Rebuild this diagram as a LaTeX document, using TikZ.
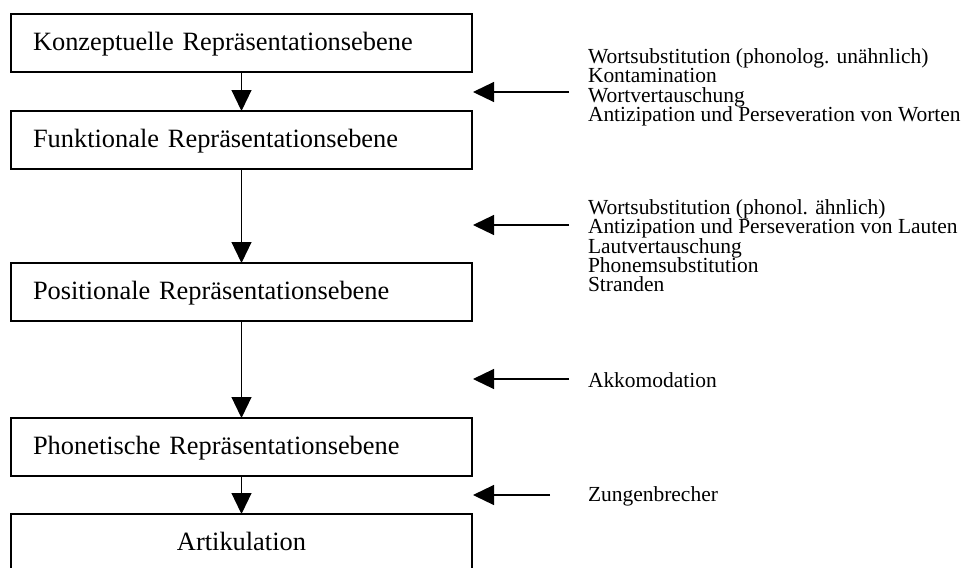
\documentclass[tikz,border=0pt]{standalone}
\usepackage{fontspec}
\setmainfont{Liberation Serif}
\usetikzlibrary{arrows.meta,positioning}

\newcommand\fehlerfont{\fontsize{16.1}{14.5}\selectfont\lineskiplimit=-100pt\relax}

\tikzset{
  ebene/.style={draw, line width=1pt, outer sep=0pt, inner xsep=16.5pt, inner ysep=0pt,
    text width=312.75pt, align=left, text height=27pt, text depth=16.5pt,
    anchor=north west, font=\fontsize{19.8}{24}\selectfont},
  pfeil/.style={line width=0.9pt, -{Triangle[length=15.75pt,width=15pt]}},
  fehler/.style={inner sep=0pt, outer sep=0pt, align=left, font=\fehlerfont}
}

\begin{document}
\begin{tikzpicture}[x=0.75pt, y=-0.75pt]
    \clip (0,0) rectangle (961,568);
    % Ebenen der Sprachproduktion
    \node[ebene] (kon) at (11,14)  {Konzeptuelle Repräsentationsebene};
    \node[ebene] (fun) at (11,111) {Funktionale Repräsentationsebene};
    \node[ebene] (pos) at (11,263) {Positionale Repräsentationsebene};
    \node[ebene] (pho) at (11,418) {Phonetische Repräsentationsebene};
    \node[ebene, align=center] (art) at (11,514) {Artikulation};
    \draw[pfeil] (kon.south) -- (fun.north);
    \draw[pfeil] (fun.south) -- (pos.north);
    \draw[pfeil] (pos.south) -- (pho.north);
    \draw[pfeil] (pho.south) -- (art.north);
    % Versprecher je Ebene
    \coordinate (a1) at (569,92);  \coordinate (b1) at (473,92);
    \coordinate (a2) at (569,225); \coordinate (b2) at (473,225);
    \coordinate (a3) at (569,379); \coordinate (b3) at (473,379);
    \coordinate (a4) at (550,495); \coordinate (b4) at (473,495);
    \draw[pfeil] (a1) -- (b1);
    \draw[pfeil] (a2) -- (b2);
    \draw[pfeil] (a3) -- (b3);
    \draw[pfeil] (a4) -- (b4);
    \node[fehler, anchor=north west] (wort) at (588,48.5)
        {Wortsubstitution (phonolog. unähnlich)\\Kontamination\\Wortvertauschung\\Antizipation und Perseveration von Worten};
    \node[fehler, anchor=north west] (laut) at (588,199.5)
        {Wortsubstitution (phonol. ähnlich)\\Antizipation und Perseveration von Lauten\\Lautvertauschung\\Phonemsubstitution\\Stranden};
    \node[fehler, anchor=base west] (akko) at (588,387) {Akkomodation};
    \node[fehler, anchor=base west] (zung) at (588,501) {Zungenbrecher};
\end{tikzpicture}
\end{document}
